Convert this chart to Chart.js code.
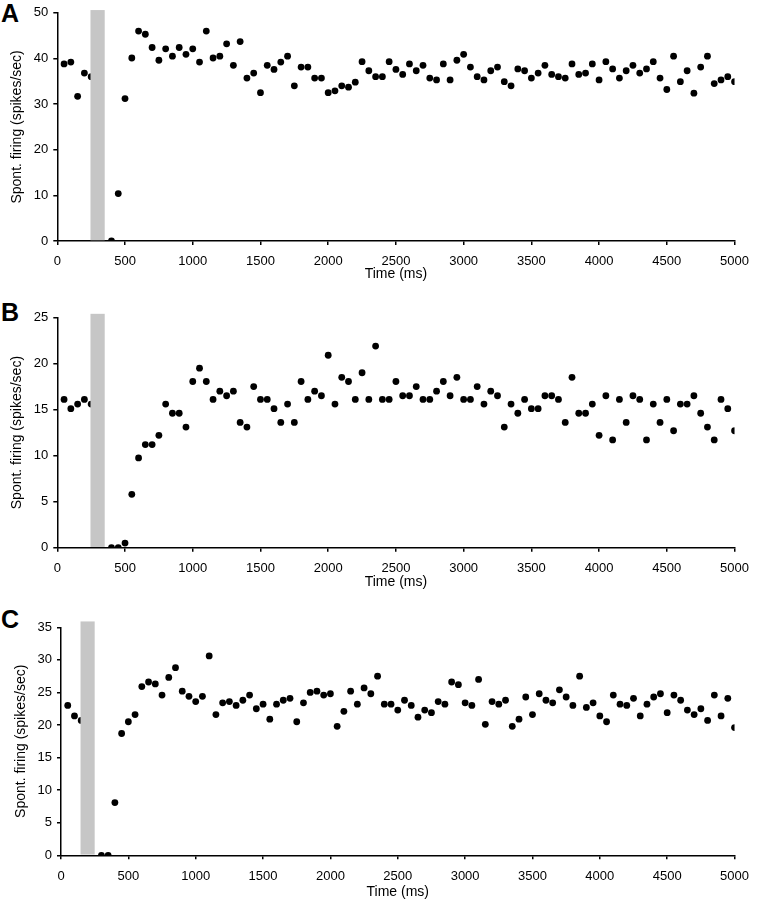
<!DOCTYPE html>
<html>
<head>
<meta charset="utf-8">
<script src="https://cdn.jsdelivr.net/npm/chart.js@4"></script>
<style>
  html, body { margin:0; padding:0; background:#fff; overflow:hidden; }
  body { width:758px; height:900px; position:relative; font-family:"Liberation Sans", Arial, sans-serif; }
  canvas { position:absolute; left:0; }
  .lbl { position:absolute; left:1px; font-weight:bold; font-size:25px; line-height:25px; color:#000; }
</style>
</head>
<body>
<div class="lbl" style="top:1px">A</div>
<div class="lbl" style="top:300px">B</div>
<div class="lbl" style="top:607px">C</div>
<canvas id="cA"></canvas>
<canvas id="cB"></canvas>
<canvas id="cC"></canvas>
<script>
// ---- data ----
const timesMs = [50,100,150,200,250,300,350,400,450,500,550,600,650,700,750,800,850,900,950,1000,
  1050,1100,1150,1200,1250,1300,1350,1400,1450,1500,1550,1600,1650,1700,1750,1800,1850,1900,1950,2000,
  2050,2100,2150,2200,2250,2300,2350,2400,2450,2500,2550,2600,2650,2700,2750,2800,2850,2900,2950,3000,
  3050,3100,3150,3200,3250,3300,3350,3400,3450,3500,3550,3600,3650,3700,3750,3800,3850,3900,3950,4000,
  4050,4100,4150,4200,4250,4300,4350,4400,4450,4500,4550,4600,4650,4700,4750,4800,4850,4900,4950,5000];

const firingA = [38.8,39.2,31.7,36.8,36.0,null,null,0,10.4,31.2,40.1,46.0,45.3,42.4,39.6,42.1,40.5,42.4,40.9,42.1,
  39.2,46.0,40.1,40.5,43.2,38.5,43.7,35.7,36.8,32.5,38.5,37.6,39.2,40.5,34.0,38.1,38.1,35.7,35.7,32.5,
  32.9,34.0,33.7,34.8,39.3,37.3,36.0,36.0,39.3,37.6,36.5,38.8,37.3,38.5,35.7,35.3,38.8,35.3,39.6,40.9,
  38.1,36.0,35.3,37.3,38.1,34.9,34.0,37.7,37.3,35.7,36.8,38.5,36.5,36.0,35.7,38.8,36.5,36.8,38.8,35.3,
  39.3,37.7,35.7,37.3,38.5,36.8,37.7,39.3,35.7,33.2,40.5,34.9,37.3,32.4,38.1,40.5,34.5,35.3,36.0,34.9];

const firingB = [16.1,15.1,15.6,16.1,15.6,null,null,0,0,0.5,5.8,9.75,11.2,11.2,12.2,15.6,14.6,14.6,13.1,18.05,
  19.5,18.05,16.1,17.0,16.5,17.0,13.6,13.1,17.5,16.1,16.1,15.1,13.6,15.6,13.6,18.05,16.1,17.0,16.5,20.9,
  15.6,18.5,18.05,16.1,19.0,16.1,21.9,16.1,16.1,18.05,16.5,16.5,17.5,16.1,16.1,17.0,18.05,16.5,18.5,16.1,
  16.1,17.5,15.6,17.0,16.5,13.1,15.6,14.6,16.1,15.1,15.1,16.5,16.5,16.1,13.6,18.5,14.6,14.6,15.6,12.2,
  16.5,11.7,16.1,13.6,16.5,16.1,11.7,15.6,13.6,16.1,12.7,15.6,15.6,16.5,14.6,13.1,11.7,16.1,15.1,12.7];

const firingC = [23.0,21.4,20.7,null,null,0,0,8.1,18.7,20.5,21.6,25.9,26.6,26.3,24.6,27.3,28.8,25.2,24.4,23.6,
  24.4,30.6,21.6,23.4,23.6,23.0,23.8,24.6,22.5,23.2,20.9,23.2,23.8,24.1,20.5,23.4,25.0,25.2,24.6,24.8,
  19.8,22.1,25.2,23.2,25.7,24.8,27.5,23.2,23.2,22.3,23.8,23.0,21.2,22.3,21.9,23.6,23.2,26.6,26.2,23.4,
  23.0,27.0,20.1,23.6,23.2,23.8,19.8,20.9,24.3,21.6,24.8,23.8,23.4,25.4,24.3,23.0,27.5,22.7,23.4,21.4,
  20.5,24.6,23.2,23.0,24.1,21.4,23.2,24.3,24.8,21.9,24.6,23.8,22.3,21.6,22.5,20.7,24.6,21.4,24.1,19.6];

// stimulus window [start ms, end ms, top value]
const stimA = [245, 350, 50.6];
const stimB = [245, 350, 25.4];
const stimC = [145, 250, 35.9];

// axis ranges / tick labels
const xTicks = [0,500,1000,1500,2000,2500,3000,3500,4000,4500,5000];
const yMaxA = 50, yStepA = 10;
const yMaxB = 25, yStepB = 5;
const yMaxC = 35, yStepC = 5;
const xTitle = 'Time (ms)';
const yTitle = 'Spont. firing (spikes/sec)';

// ---- drawing ----
const FONT = '"Liberation Sans", Arial, sans-serif';
const TITLE_SIZE = 14;

const stimPlugin = {
  id: 'stim',
  afterDatasetsDraw(chart, args, opts) {
    const {ctx, scales:{x, y}} = chart;
    const s = opts.win;
    const x0 = x.getPixelForValue(s[0]), x1 = x.getPixelForValue(s[1]);
    const yt = y.getPixelForValue(s[2]), yb = y.getPixelForValue(0);
    ctx.save();
    ctx.fillStyle = '#c6c6c6';
    ctx.fillRect(x0, yt, x1 - x0, yb - yt - 0.75);
    ctx.restore();
  }
};

function makePanel(id, values, stim, yMax, yStep, L) {
  const cv = document.getElementById(id);
  const H = L.canvasH;
  cv.style.top = L.canvasTop + 'px';
  cv.width = 758; cv.height = H;
  cv.style.width = '758px'; cv.style.height = H + 'px';
  const titleLH = TITLE_SIZE * 1.2;
  const xH = (L.canvasTop + H) - L.bottom;
  const titlePadBottom = (L.canvasTop + H) - L.titleY - titleLH / 2;
  const pts = [];
  for (let i = 0; i < timesMs.length; i++) {
    if (values[i] !== null) pts.push({x: timesMs[i], y: values[i]});
  }
  return new Chart(cv, {
    type: 'scatter',
    data: { datasets: [{ data: pts, backgroundColor: '#000', borderColor: '#000',
      pointRadius: 3.4, pointBorderWidth: 0, pointHoverRadius: 3.4 }] },
    plugins: [stimPlugin],
    options: {
      responsive: false, animation: false, devicePixelRatio: 1,
      layout: { padding: { top: L.top - L.canvasTop, left: 0, right: 758 - L.right, bottom: 0 } },
      plugins: { legend: {display:false}, tooltip: {enabled:false}, stim: { win: stim } },
      scales: {
        x: {
          type: 'linear', min: 0, max: 5000,
          afterBuildTicks: s => { s.ticks = xTicks.map(v => ({value: v})); },
          afterFit: s => { s.height = xH; },
          ticks: { color:'#000', font:{family:FONT, size:13}, padding: 9, maxRotation:0, autoSkip:false,
                   callback: v => String(v) },
          grid: { display:true, drawOnChartArea:false, drawTicks:true, tickLength:4, color:'#000', lineWidth:1.5 },
          border: { display:true, color:'#000', width:1.5 },
          title: { display:true, text: xTitle, color:'#000', font:{family:FONT, size:TITLE_SIZE},
                   padding: { top: 0, bottom: titlePadBottom } }
        },
        y: {
          type: 'linear', min: 0, max: yMax,
          ticks: { stepSize: yStep, color:'#000', font:{family:FONT, size:13}, padding: 5,
                   callback: v => String(v) },
          afterFit: s => { s.width = L.left; },
          grid: { display:true, drawOnChartArea:false, drawTicks:true, tickLength:4, color:'#000', lineWidth:1.5 },
          border: { display:true, color:'#000', width:1.5 },
          title: { display:true, text: yTitle, color:'#000', font:{family:FONT, size:TITLE_SIZE},
                   padding: { top: L.yTitleX - titleLH / 2, bottom: 0 } }
        }
      }
    }
  });
}

makePanel('cA', firingA, stimA, yMaxA, yStepA,
  { canvasTop: 0, canvasH: 286, left: 57.3, right: 738.3, top: 9.3, bottom: 241, titleY: 274, yTitleX: 17 });
makePanel('cB', firingB, stimB, yMaxB, yStepB,
  { canvasTop: 296, canvasH: 298, left: 57.3, right: 742.7, top: 317.5, bottom: 547.7, titleY: 582, yTitleX: 17 });
makePanel('cC', firingC, stimC, yMaxC, yStepC,
  { canvasTop: 606, canvasH: 294, left: 61, right: 742.7, top: 627.3, bottom: 855.3, titleY: 892, yTitleX: 21 });
</script>
</body>
</html>
